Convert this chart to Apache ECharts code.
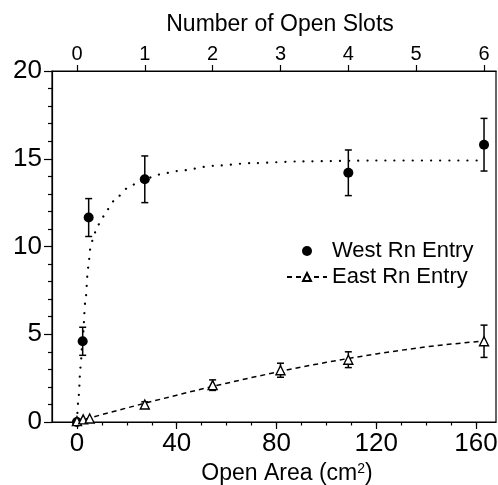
<!DOCTYPE html>
<html>
<head>
<meta charset="utf-8">
<title>Rn Entry vs Open Area</title>
<script src="https://cdn.jsdelivr.net/npm/echarts@6/dist/echarts.min.js"></script>
<style>
  html, body { margin: 0; padding: 0; background: #fff; }
  #chart { width: 498px; height: 485px; }
</style>
</head>
<body>
<div id="chart"></div>
<script>
// Measured entry rates versus open area (cm^2); one slot = 27.2 cm^2
const westArea = [0, 2.3, 4.7, 27.2, 108.8, 163.2];
const westRn   = [0, 4.6, 11.65, 13.83, 14.2, 15.8];
const westErr  = [0, 0.8, 1.08, 1.33, 1.3, 1.5];

const eastArea = [0, 2.5, 5.1, 27.2, 54.4, 81.6, 108.8, 163.2];
const eastRn   = [0.05, 0.15, 0.2, 1.0, 2.1, 2.95, 3.55, 4.6];
const eastErr  = [0, 0, 0, 0.15, 0.3, 0.4, 0.45, 0.92];

// Fitted curves, traced point by point
const westFitArea = [0, 0.7, 1.4, 2.3, 3.4, 4.5, 5.4, 6.7, 8, 10, 12, 16, 20, 25, 33, 40, 55, 70, 90, 120, 161];
const westFitRn   = [0, 1.5, 3.1, 4.8, 6.9, 8.8, 9.9, 10.6, 11.1, 11.6, 12.1, 12.8, 13.3, 13.7, 14.1, 14.3, 14.6, 14.75, 14.85, 14.9, 14.9];
const eastFitArea = [0, 10, 20, 30, 40, 50, 60, 70, 80, 90, 100, 110, 120, 130, 140, 150, 162];
const eastFitRn   = [0.03, 0.42, 0.8, 1.17, 1.53, 1.88, 2.21, 2.53, 2.84, 3.13, 3.4, 3.65, 3.88, 4.09, 4.28, 4.44, 4.6];

// Axis ticks and labels
const areaLabels  = [0, 40, 80, 120, 160];
const areaMinor   = [0, 10, 20, 30, 40, 50, 60, 70, 80, 90, 100, 110, 120, 130, 140, 150, 160];
const slotLabels  = [0, 1, 2, 3, 4, 5, 6];
const areaPerSlot = 27.2;
const areaMin = -10, areaMax = 168;

const FONT = "'Liberation Sans', Arial, Helvetica, sans-serif";
const BLACK = '#000';

const zip = (xs, ys) => xs.map((x, i) => [x, ys[i]]);
const zip3 = (xs, ys, es) => xs.map((x, i) => [x, ys[i], es[i]]);

function errorBars(params, api) {
  const x = api.value(0), y = api.value(1), e = api.value(2);
  if (!e) return null;
  const top = api.coord([x, y + e]);
  const bot = api.coord([x, y - e]);
  const hw = 3.5;
  const st = { stroke: BLACK, lineWidth: 1.5 };
  return {
    type: 'group',
    children: [
      { type: 'line', shape: { x1: top[0], y1: top[1], x2: bot[0], y2: bot[1] }, style: st },
      { type: 'line', shape: { x1: top[0] - hw, y1: top[1], x2: top[0] + hw, y2: top[1] }, style: st },
      { type: 'line', shape: { x1: bot[0] - hw, y1: bot[1], x2: bot[0] + hw, y2: bot[1] }, style: st }
    ]
  };
}

const chart = echarts.init(document.getElementById('chart'), null, { renderer: 'canvas' });

const axisLine = { show: true, onZero: false, lineStyle: { color: BLACK, width: 1.2 } };

chart.setOption({
  animation: false,
  backgroundColor: '#fff',
  textStyle: { fontFamily: FONT, color: BLACK },
  grid: {
    left: 52, right: 2, top: 71, bottom: 63,
    show: true, borderColor: BLACK, borderWidth: 1.2,
    containLabel: false, outerBoundsMode: 'none'
  },
  legend: {
    orient: 'vertical',
    left: 286, top: 240,
    padding: 0,
    itemWidth: 40, itemHeight: 10, itemGap: 4,
    textStyle: { fontFamily: FONT, fontSize: 22, color: BLACK },
    data: ['West Rn Entry', 'East Rn Entry']
  },
  xAxis: [
    {
      type: 'value', position: 'bottom', min: areaMin, max: areaMax,
      axisLine: axisLine,
      axisTick: { show: true, customValues: areaLabels, length: 7, lineStyle: { color: BLACK, width: 1.2 } },
      axisLabel: { customValues: areaLabels, fontSize: 26, margin: 9, color: BLACK, fontFamily: FONT },
      splitLine: { show: false },
      name: 'Open Area (cm{sup|2})',
      nameLocation: 'middle', nameGap: 37,
      nameTextStyle: {
        fontSize: 23, color: BLACK, fontFamily: FONT, padding: [0, 0, 0, 26],
        rich: { sup: { fontSize: 14, color: BLACK, fontFamily: FONT, verticalAlign: 'bottom', padding: [0, 0, 10, 0] } }
      }
    },
    {
      type: 'value', position: 'bottom', min: areaMin, max: areaMax,
      axisLine: { show: false, onZero: false },
      axisTick: { show: true, customValues: areaMinor, length: 3.5, lineStyle: { color: BLACK, width: 1.2 } },
      axisLabel: { show: false },
      splitLine: { show: false }
    },
    {
      type: 'value', position: 'top',
      min: areaMin / areaPerSlot, max: areaMax / areaPerSlot,
      axisLine: axisLine,
      axisTick: { show: true, customValues: slotLabels, length: 6, lineStyle: { color: BLACK, width: 1.2 } },
      axisLabel: { customValues: slotLabels, fontSize: 20, margin: 7, color: BLACK, fontFamily: FONT },
      splitLine: { show: false },
      name: 'Number of Open Slots',
      nameLocation: 'middle', nameGap: 35,
      nameTextStyle: { fontSize: 23, color: BLACK, fontFamily: FONT, padding: [0, 0, 0, 12] }
    }
  ],
  yAxis: [
    {
      type: 'value', min: 0, max: 20, interval: 5, position: 'left',
      axisLine: axisLine,
      axisTick: { show: true, length: 8, lineStyle: { color: BLACK, width: 1.2 } },
      minorTick: { show: true, splitNumber: 5, length: 4, lineStyle: { color: BLACK, width: 1.2 } },
      axisLabel: { fontSize: 26, margin: 10, color: BLACK, fontFamily: FONT },
      splitLine: { show: false },
      minorSplitLine: { show: false }
    }
  ],
  series: [
    {
      name: 'West fit', type: 'line', xAxisIndex: 0, yAxisIndex: 0,
      data: zip(westFitArea, westFitRn),
      showSymbol: false, symbol: 'none', smooth: 0.3, smoothMonotone: 'x',
      lineStyle: { color: BLACK, width: 2.2, type: [0.1, 9], cap: 'round', opacity: 1 },
      z: 1, silent: true
    },
    {
      name: 'East Rn Entry', type: 'line', xAxisIndex: 0, yAxisIndex: 0,
      data: zip(eastFitArea, eastFitRn),
      showSymbol: false, symbol: 'triangle', symbolSize: 9, smooth: false,
      lineStyle: { color: BLACK, width: 1.5, type: [5, 4], opacity: 1 },
      itemStyle: { color: '#fff', borderColor: BLACK, borderWidth: 1.4, opacity: 1 },
      z: 1, silent: true
    },
    {
      name: 'West bars', type: 'custom', xAxisIndex: 0, yAxisIndex: 0,
      data: zip3(westArea, westRn, westErr),
      renderItem: errorBars, z: 2, silent: true
    },
    {
      name: 'East bars', type: 'custom', xAxisIndex: 0, yAxisIndex: 0,
      data: zip3(eastArea, eastRn, eastErr),
      renderItem: errorBars, z: 2, silent: true
    },
    {
      name: 'West Rn Entry', type: 'scatter', xAxisIndex: 0, yAxisIndex: 0,
      data: zip(westArea, westRn),
      symbol: 'circle', symbolSize: 10,
      itemStyle: { color: BLACK, opacity: 1 },
      z: 3
    },
    {
      name: 'East Rn Entry', type: 'scatter', xAxisIndex: 0, yAxisIndex: 0,
      data: zip(eastArea, eastRn),
      symbol: 'triangle', symbolSize: 9,
      itemStyle: { color: '#fff', borderColor: BLACK, borderWidth: 1.4, opacity: 1 },
      z: 3
    }
  ]
});
</script>
</body>
</html>
